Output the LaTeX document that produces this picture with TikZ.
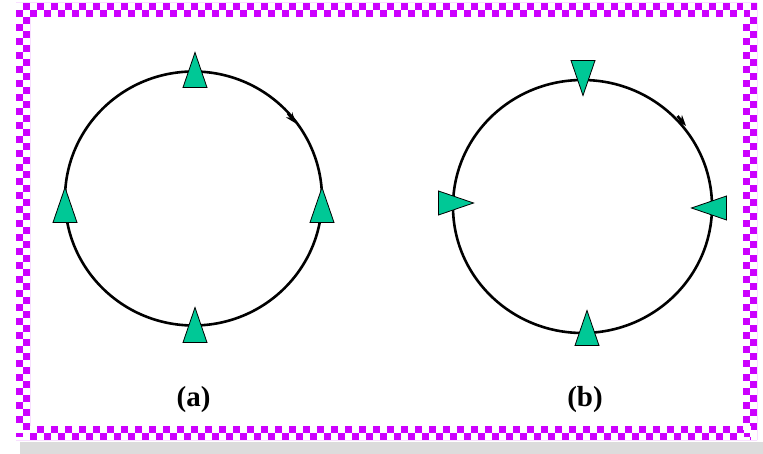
\documentclass[tikz,border=0pt]{standalone}
\usepackage{fontspec}
\setmainfont{Liberation Serif}
\usetikzlibrary{arrows.meta}
\definecolor{mag}{RGB}{204,0,255}
\definecolor{teal2}{RGB}{0,200,150}
\definecolor{shadowgray}{RGB}{220,220,220}
\begin{document}
\begin{tikzpicture}[x=1pt,y=-1pt,
  tri/.pic={\filldraw[fill=teal2,draw=black,line width=0.8pt] (0,-17.5) -- (12,17.5) -- (-12,17.5) -- cycle;},
  ring/.style={line width=2.6pt,draw=black},
  dir/.style={line width=2.6pt,-{Stealth[length=11pt,width=8pt]}},
  lab/.style={font=\fontsize{29}{33}\selectfont\bfseries},
  checker/.style={draw=white,line width=7pt,dash pattern=on 7pt off 7pt}]
\useasboundingbox (0,0) rectangle (763,454);
\fill[white] (0,0) rectangle (763,454);
\fill[shadowgray] (20,442) rectangle (763,454);
% checkered frame
\fill[mag,even odd rule] (16,3) rectangle (757,440) (30,17) rectangle (743,426);
\draw[checker] (16,6.5) -- (757,6.5);
\draw[checker,dash phase=7pt] (16,13.5) -- (757,13.5);
\draw[checker] (16,429.5) -- (757,429.5);
\draw[checker,dash phase=7pt] (16,436.5) -- (757,436.5);
\draw[checker] (19.5,3) -- (19.5,440);
\draw[checker,dash phase=7pt] (26.5,3) -- (26.5,440);
\draw[checker] (746.5,3) -- (746.5,440);
\draw[checker,dash phase=7pt] (753.5,3) -- (753.5,440);
% circle (a)
\coordinate (ca) at (193.5,198.5);
\draw[ring] (ca) ellipse [x radius=128.5, y radius=127];
\coordinate (pa1) at (288.0,113.5);
\coordinate (pa2) at (296.0,123.5);
\draw[dir] (pa1) -- (pa2);
\pic at (195,70) {tri};
\pic at (65,205) {tri};
\pic at (322,205) {tri};
\pic at (195,325) {tri};
\node[lab] (la) at (193.5,400) {(a)};
% circle (b)
\coordinate (cb) at (582.5,206.5);
\draw[ring] (cb) ellipse [x radius=129.5, y radius=126.5];
\coordinate (pb1) at (677.5,116.0);
\coordinate (pb2) at (686.0,126.0);
\draw[dir] (pb1) -- (pb2);
\pic[rotate=180] at (583,78) {tri};
\pic[rotate=-90] at (456,203) {tri};
\pic[rotate=90] at (709,208) {tri};
\pic at (587,328) {tri};
\node[lab] (lb) at (585,400) {(b)};
\end{tikzpicture}
\end{document}
